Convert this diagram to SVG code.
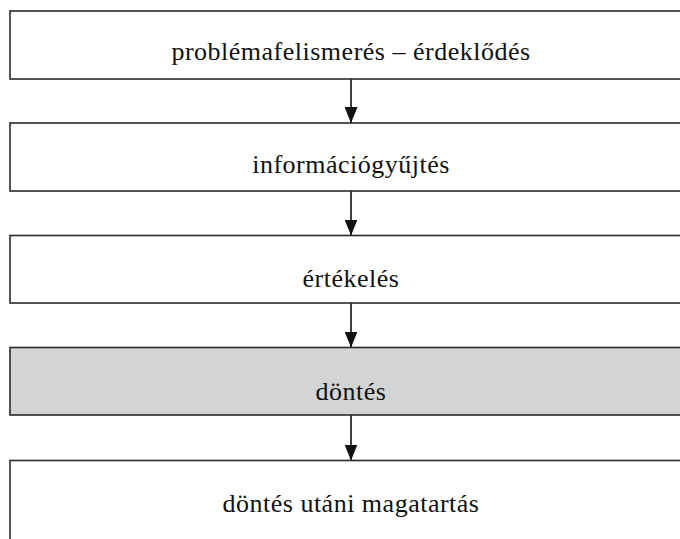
<svg xmlns="http://www.w3.org/2000/svg" width="680" height="539" viewBox="0 0 680 539">
<defs>
<style>
.box{fill:#fff;stroke:#2a2a2a;stroke-width:1.6}
.hl{fill:#d3d4d6}
.t{font-family:"Liberation Serif","DejaVu Serif",serif;font-size:26px;letter-spacing:0.5px;fill:#111;text-anchor:middle}
.c{stroke:#111;stroke-width:1.6;fill:none;marker-end:url(#ah)}
</style>
<marker id="ah" viewBox="0 0 16 13" refX="16" refY="6.5" markerWidth="16" markerHeight="13" orient="auto" markerUnits="userSpaceOnUse">
<path d="M0,0 L16,6.5 L0,13 z" fill="#111"/>
</marker>
</defs>
<g id="connectors">
<line class="c" x1="351" y1="79" x2="351" y2="123"/>
<line class="c" x1="351" y1="191" x2="351" y2="235.5"/>
<line class="c" x1="351" y1="303" x2="351" y2="347.5"/>
<line class="c" x1="351" y1="415" x2="351" y2="460.5"/>
</g>
<g id="n1"><rect class="box" x="10" y="11" width="680" height="68"/><text class="t" x="351" y="60">problémafelismerés – érdeklődés</text></g>
<g id="n2"><rect class="box" x="10" y="123" width="680" height="68"/><text class="t" x="351" y="173">információgyűjtés</text></g>
<g id="n3"><rect class="box" x="10" y="235.5" width="680" height="67.5"/><text class="t" x="351" y="287">értékelés</text></g>
<g id="n4"><rect class="box hl" x="10" y="347.5" width="680" height="67.5"/><text class="t" x="351" y="400">döntés</text></g>
<g id="n5"><rect class="box" x="10" y="460.5" width="680" height="100"/><text class="t" x="351" y="512">döntés utáni magatartás</text></g>
</svg>
